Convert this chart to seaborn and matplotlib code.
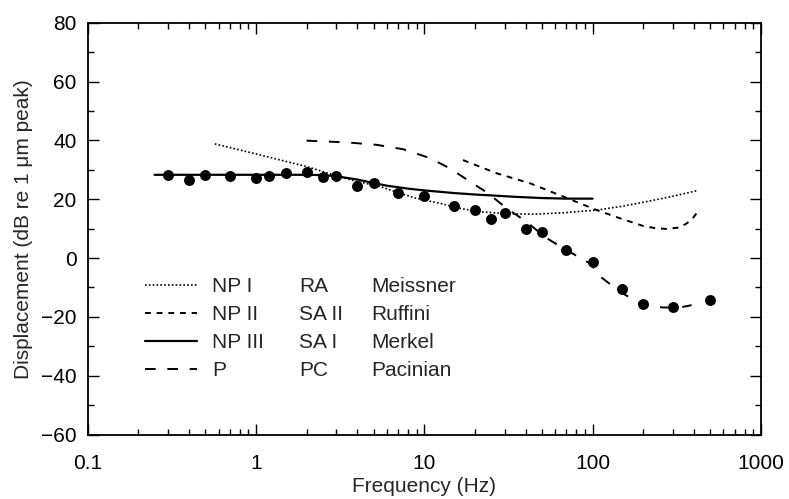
import numpy as np
import matplotlib
matplotlib.use("Agg")
import matplotlib.pyplot as plt
import seaborn as sns
from matplotlib.ticker import MultipleLocator, LogLocator, NullFormatter
from matplotlib.lines import Line2D

# ---------------- data ----------------
point_freq = [0.3, 0.4, 0.5, 0.7, 1.0, 1.2, 1.5, 2, 2.5, 3, 4, 5, 7, 10, 15, 20,
              25, 30, 40, 50, 70, 100, 150, 200, 300, 500]
point_db = [28.2, 26.5, 28.2, 27.9, 27.2, 27.9, 28.9, 29.3, 27.6, 27.9, 24.5, 25.5,
            22.1, 21.1, 17.7, 16.3, 13.3, 15.3, 9.9, 8.8, 2.7, -1.4, -10.5, -15.6,
            -16.7, -14.3]

np1_freq = [0.57, 1, 2, 3, 4, 5.5, 6.9, 9, 12.4, 16, 21.5, 31, 45, 67, 106, 150, 210, 300, 416]
np1_db = [38.8, 35.4, 31.1, 28.0, 26.0, 24.3, 22.3, 20.3, 18.6, 17.0, 15.7, 15.1, 14.9,
          15.4, 16.3, 17.6, 19.2, 21.0, 22.9]

np2_freq = [17, 27, 42.6, 67, 106, 146, 200, 240, 276, 330, 363, 390, 416]
np2_db = [33.3, 28.8, 25.4, 20.9, 16.3, 13.5, 10.9, 10.1, 9.9, 10.4, 11.8, 13.2, 15.3]

np3_freq = [0.25, 1, 2, 2.5, 3, 4, 5, 6, 8, 10, 12, 15, 20, 25, 35, 50, 70, 100]
np3_db = [28.3, 28.3, 28.3, 28.2, 27.8, 26.7, 25.5, 24.6, 23.6, 23.0, 22.6, 22.1, 21.6,
          21.3, 20.8, 20.4, 20.2, 20.2]

p_freq = [2, 3.5, 5.2, 7.5, 10.8, 14.2, 18.7, 24, 30.9, 40.6, 52, 67, 96.6, 113,
          146, 191, 230, 264, 331, 388]
p_db = [39.9, 39.3, 38.5, 37.0, 34.0, 30.5, 26.0, 22.0, 16.9, 12.3, 7.2, 3.3, -1.8,
        -6.6, -11.5, -15.4, -16.5, -16.8, -16.8, -16.0]

channel_labels = ["NP I", "NP II", "NP III", "P"]
fiber_labels = ["RA", "SA II", "SA I", "PC"]
organ_labels = ["Meissner", "Ruffini", "Merkel", "Pacinian"]

x_ticks = [0.1, 1, 10, 100, 1000]
x_ticklabels = ["0.1", "1", "10", "100", "1000"]
y_ticks = [-60, -40, -20, 0, 20, 40, 60, 80]

# ---------------- style ----------------
sns.set_style("ticks")
plt.rcParams["font.family"] = ["Liberation Sans", "DejaVu Sans"]
FS = 15

fig = plt.figure(figsize=(7.89, 4.99), dpi=100)
ax = fig.add_axes([0.111, 0.1291, 0.8533, 0.8254])
ax.set_xscale("log")

styles = {
    "NP I": dict(lw=1.2, linestyle=(0, (1, 1.3))),
    "NP II": dict(lw=1.4, linestyle=(0, (3, 3))),
    "NP III": dict(lw=1.6, linestyle="-"),
    "P": dict(lw=1.4, linestyle=(0, (5.5, 6))),
}

series = [("NP I", np1_freq, np1_db), ("NP II", np2_freq, np2_db),
          ("NP III", np3_freq, np3_db), ("P", p_freq, p_db)]
for name, fx, fy in series:
    sns.lineplot(x=np.array(fx), y=np.array(fy), ax=ax, color="black",
                 estimator=None, sort=False, legend=False, **styles[name])

sns.scatterplot(x=np.array(point_freq), y=np.array(point_db), ax=ax, color="black",
                s=62, linewidth=0, zorder=5, legend=False)

# ---------------- axes ----------------
ax.set_xlim(0.1, 1000)
ax.set_ylim(-60, 80)
ax.set_xticks(x_ticks)
ax.set_xticklabels(x_ticklabels)
ax.xaxis.set_minor_locator(LogLocator(base=10, subs=np.arange(2, 10)))
ax.xaxis.set_minor_formatter(NullFormatter())
ax.set_yticks(y_ticks)
ax.yaxis.set_minor_locator(MultipleLocator(10))

ax.tick_params(which="both", direction="in", top=True, right=True, width=1.0,
               colors="black")
ax.tick_params(which="major", length=8, labelsize=FS)
ax.tick_params(which="minor", length=4)
ax.tick_params(axis="x", which="major", pad=14)
ax.tick_params(axis="y", which="major", pad=8)
for sp in ax.spines.values():
    sp.set_linewidth(1.3)
    sp.set_color("black")

ax.set_xlabel("Frequency (Hz)", fontsize=FS, labelpad=3)
ax.set_ylabel("Displacement (dB re 1 μm peak)", fontsize=FS, labelpad=6)

# ---------------- legend (three aligned columns) ----------------
handles = [Line2D([], [], color="black", **styles[n]) for n in channel_labels]
top = 1 - 277.0 / 499
common = dict(loc="upper left", bbox_transform=fig.transFigure, frameon=False,
              borderpad=0, borderaxespad=0, labelspacing=0.43, fontsize=FS)
leg1 = ax.legend(handles, channel_labels, bbox_to_anchor=(0.1838, top),
                 handlelength=2.49, handletextpad=0.72, **common)
ax.add_artist(leg1)
blank = [Line2D([], [], linestyle="none") for _ in range(4)]
leg2 = ax.legend(blank, fiber_labels, bbox_to_anchor=(0.379, top),
                 handlelength=0, handletextpad=0, **common)
ax.add_artist(leg2)
leg3 = ax.legend(blank, organ_labels, bbox_to_anchor=(0.4702, top),
                 handlelength=0, handletextpad=0, **common)

fig.savefig("out.png", dpi=100)
